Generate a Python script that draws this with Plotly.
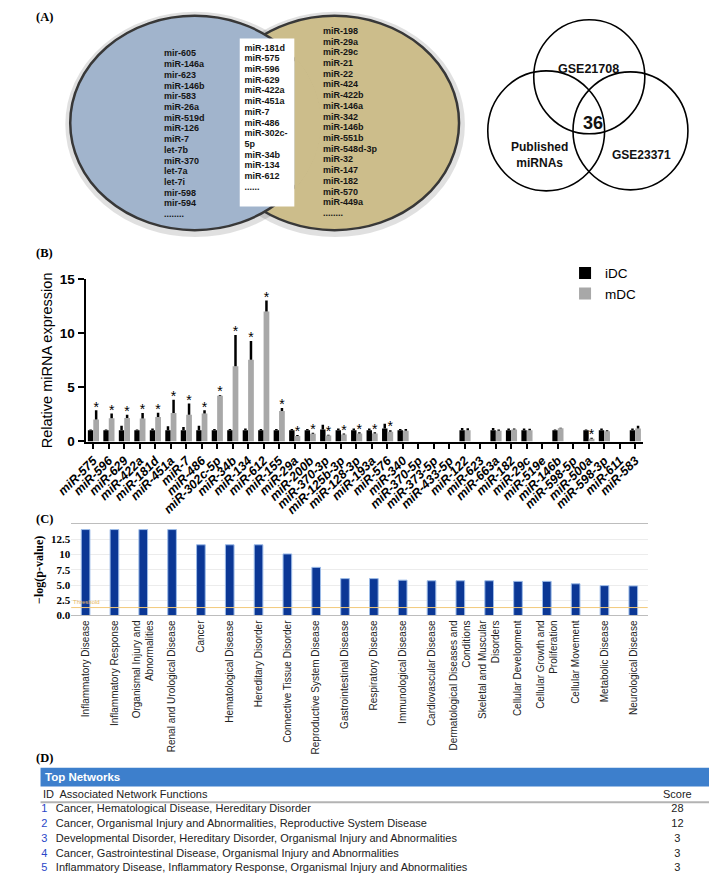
import numpy as np
import plotly.graph_objects as go

W, H = 709, 884
SANS = "Liberation Sans, Arial, sans-serif"
SERIF = "Liberation Serif, Times New Roman, serif"

# ---------------- Panel A data ----------------
left_only = ["mir-605", "miR-146a", "mir-623", "miR-146b", "mir-583", "miR-26a", "miR-519d",
             "miR-126", "miR-7", "let-7b", "miR-370", "let-7a", "let-7i", "mir-598", "mir-594",
             "........"]
shared = ["miR-181d", "miR-575", "miR-596", "miR-629", "miR-422a", "miR-451a", "miR-7",
          "miR-486", "miR-302c-", "5p", "miR-34b", "miR-134", "miR-612", "......"]
right_only = ["miR-198", "miR-29a", "miR-29c", "miR-21", "miR-22", "miR-424", "miR-422b",
              "miR-146a", "miR-342", "miR-146b", "miR-551b", "miR-548d-3p", "miR-32", "miR-147",
              "miR-182", "miR-570", "miR-449a", "........"]
venn3_sets = ["GSE21708", "Published<br>miRNAs", "GSE23371"]
venn3_common = "36"

# ---------------- Panel B data ----------------
mirnas = ["miR-575", "miR-596", "miR-629", "miR-422a", "miR-181d", "miR-451a", "miR-7", "miR-486",
          "miR-302c-5p", "miR-34b", "miR-134", "miR-612", "miR-155", "miR-29a", "miR-200b",
          "miR-370-3p", "miR-125b-3p", "miR-128-3p", "miR-193a", "miR-576", "miR-340",
          "miR-370-5p", "miR-373-5p", "miR-433-5p", "miR-122", "miR-623", "miR-663a", "miR-182",
          "miR-29c", "miR-519e", "miR-146b", "miR-598-5p", "miR-500a", "miR-598-3p", "miR-611",
          "miR-583"]
idc = [1.05, 1.05, 1.05, 1.05, 1.05, 1.05, 1.05, 1.05, 1.05, 1.05, 1.05, 1.05, 1.05, 1.05, 1.05,
       1.1, 1.05, 1.05, 1.05, 1.2, 1.05, 0, 0, 0, 1.05, 0, 1.05, 1.05, 1.05, 0, 1.05, 0, 1.05,
       1.05, 0, 1.05]
idc_err = [0.05, 0.05, 0.4, 0.05, 0.15, 0.35, 0.3, 0.4, 0.1, 0.1, 0.15, 0.1, 0.1, 0.1, 0.1,
           0.45, 0.15, 0.15, 0.15, 0.45, 0.1, 0, 0, 0, 0.2, 0, 0.2, 0.15, 0.15, 0, 0.05, 0, 0.05,
           0.15, 0, 0.15]
mdc = [2.03, 2.15, 2.18, 2.12, 2.27, 2.64, 2.48, 2.58, 4.24, 6.97, 7.55, 12.03, 2.82, 0.52, 0.72,
       0.55, 0.65, 0.75, 0.75, 0.9, 1.0, 0, 0, 0, 1.05, 0, 1.0, 1.1, 1.05, 0, 1.22, 0, 0.25, 0.95,
       0, 1.2]
mdc_err = [0.85, 0.43, 0.3, 0.52, 0.4, 1.21, 1.04, 0.3, 0.06, 2.88, 1.75, 1.0, 0.27, 0.08, 0.1,
           0.08, 0.1, 0.1, 0.1, 0.15, 0.15, 0, 0, 0, 0.18, 0, 0.1, 0.1, 0.12, 0, 0.05, 0, 0.1,
           0.1, 0, 0.25]
significant = [True] * 20 + [False] * 12 + [True] + [False] * 3

# ---------------- Panel C data ----------------
diseases = ["Inflammatory Disease", "Inflammatory Response", "Organismal Injury and<br>Abnormalities",
            "Renal and Urological Disease", "Cancer", "Hematological Disease", "Hereditary Disorder",
            "Connective Tissue Disorder", "Reproductive System Disease", "Gastrointestinal Disease",
            "Respiratory Disease", "Immunological Disease", "Cardiovascular Disease",
            "Dermatological Diseases and<br>Conditions", "Skeletal and Muscular<br>Disorders",
            "Cellular Development", "Cellular Growth and<br>Proliferation", "Cellular Movement",
            "Metabolic Disease", "Neurological Disease"]
neglogp = [14.1, 14.1, 14.1, 14.1, 11.6, 11.6, 11.6, 10.1, 7.9, 6.05, 6.05, 5.8, 5.7, 5.7, 5.7,
           5.6, 5.6, 5.2, 4.9, 4.85]
threshold = 1.3

# ---------------- Panel D data ----------------
net_ids = ["1", "2", "3", "4", "5"]
net_functions = ["Cancer, Hematological Disease, Hereditary Disorder",
                 "Cancer, Organismal Injury and Abnormalities, Reproductive System Disease",
                 "Developmental Disorder, Hereditary Disorder, Organismal Injury and Abnormalities",
                 "Cancer, Gastrointestinal Disease, Organismal Injury and Abnormalities",
                 "Inflammatory Disease, Inflammatory Response, Organismal Injury and Abnormalities"]
net_scores = [28, 12, 3, 3, 3]


def py(y):
    return 1 - y / H


fig = go.Figure()

# ---------- Panel A: text lists on a pixel axis ----------
LSTEP = 10.9
for items, x0, y0 in [(left_only, 140, 48), (shared, 224, 42), (right_only, 306, 25)]:
    fig.add_trace(go.Scatter(
        x=[x0] * len(items), y=[y0 + LSTEP * i for i in range(len(items))],
        mode="text", text=items, textposition="middle right",
        textfont=dict(family=SANS, size=9, color="#151515", weight="bold"),
        xaxis="x", yaxis="y", hoverinfo="skip", showlegend=False))

shapes = []
bcx, bcy, brx, bry = 172, 118, 130, 109
tcx, tcy, trx, try_ = 318, 118, 130, 109
for cx, cy, rx, ry in [(tcx, tcy, trx, try_), (bcx, bcy, brx, bry)]:
    shapes.append(dict(type="circle", xref="x", yref="y", x0=cx - rx - 2, x1=cx + rx + 3,
                       y0=cy - ry - 1, y1=cy + ry + 4, line=dict(color="rgba(0,0,0,0.12)", width=6),
                       fillcolor="rgba(0,0,0,0)", layer="below"))
shapes.append(dict(type="circle", xref="x", yref="y", x0=tcx - trx, x1=tcx + trx, y0=tcy - try_,
                   y1=tcy + try_, fillcolor="#ccbd8b", line=dict(color="#383838", width=2.5),
                   layer="below"))
shapes.append(dict(type="circle", xref="x", yref="y", x0=bcx - brx, x1=bcx + brx, y0=bcy - bry,
                   y1=bcy + bry, fillcolor="#a1b4cc", line=dict(color="#383838", width=2.5),
                   layer="below"))
box_x0, box_x1, box_y0, box_y1 = 219, 276, 32, 203
a = np.arccos((box_x1 - bcx) / (brx + 2))
t = np.linspace(-a, a, 60)
xs = bcx + (brx + 2) * np.cos(t)
ys = bcy + (bry + 2) * np.sin(t)
path = "M " + " L ".join(f"{x:.2f},{y:.2f}" for x, y in zip(xs, ys)) + " Z"
shapes.append(dict(type="path", xref="x", yref="y", path=path, fillcolor="#ccbd8b",
                   line=dict(width=0), layer="below"))
shapes.append(dict(type="rect", xref="x", yref="y", x0=box_x0, x1=box_x1, y0=box_y0, y1=box_y1,
                   fillcolor="white", line=dict(width=0), layer="below"))
for cx, cy, r in [(584, 71, 58), (539, 126, 61), (627, 126, 60)]:
    shapes.append(dict(type="circle", xref="x", yref="y", x0=cx - r, x1=cx + r, y0=cy - r,
                       y1=cy + r, line=dict(color="black", width=1.6), fillcolor="rgba(0,0,0,0)",
                       layer="below"))

annotations = []
for txt, x, y, sz in [(venn3_sets[0], 583, 63, 12.5), (venn3_sets[1], 532, 151, 12),
                      (venn3_sets[2], 638, 151, 12), (venn3_common, 588, 118, 18)]:
    annotations.append(dict(text=txt, x=x, y=y, xref="x", yref="y", showarrow=False,
                            font=dict(family=SANS, size=sz, color="#111", weight="bold")))

for lab, x, y in [("(A)", 4, 10), ("(B)", 4, 250), ("(C)", 4, 521), ("(D)", 4, 764)]:
    annotations.append(dict(text=lab, x=x / W, y=py(y), xref="paper", yref="paper",
                            xanchor="left", yanchor="middle", showarrow=False,
                            font=dict(family=SERIF, size=12.5, color="black", weight="bold")))

# ---------- Panel B ----------
idx = list(range(len(mirnas)))
fig.add_trace(go.Bar(
    x=idx, y=idc, width=0.35, offset=-0.35, name="iDC",
    marker=dict(color="black", line=dict(width=0)),
    error_y=dict(type="data", array=idc_err, arrayminus=[0] * len(idx), symmetric=False,
                 color="black", thickness=2.5, width=0),
    xaxis="x2", yaxis="y2", hoverinfo="skip"))
fig.add_trace(go.Bar(
    x=idx, y=mdc, width=0.37, offset=0.0, name="mDC",
    marker=dict(color="#a8a8a8", line=dict(width=0)),
    error_y=dict(type="data", array=mdc_err, arrayminus=[0] * len(idx), symmetric=False,
                 color="black", thickness=2.5, width=0),
    xaxis="x2", yaxis="y2", hoverinfo="skip"))
sx = [i + 0.185 for i in idx if significant[i]]
sy = [mdc[i] + mdc_err[i] + 0.2 for i in idx if significant[i]]
fig.add_trace(go.Scatter(x=sx, y=sy, mode="text", text=["*"] * len(sx),
                         textposition="middle center",
                         textfont=dict(family=SANS, size=14, color="black"),
                         xaxis="x2", yaxis="y2", showlegend=False, hoverinfo="skip"))

# ---------- Panel C ----------
cidx = list(range(len(diseases)))
fig.add_trace(go.Bar(
    x=cidx, y=neglogp, width=0.3, marker=dict(color="#0b3795", line=dict(color="#9cbbe8", width=1)),
    xaxis="x3", yaxis="y3", showlegend=False, hoverinfo="skip"))
shapes.append(dict(type="line", xref="x3 domain", yref="y3", x0=0, x1=1, y0=threshold,
                   y1=threshold, line=dict(color="#f2c97a", width=1)))
annotations.append(dict(text="Threshold", x=0, y=threshold, xref="x3 domain", yref="y3",
                        xanchor="left", yanchor="bottom", showarrow=False, yshift=1,
                        font=dict(family=SANS, size=6, color="#e8b860")))

# ---------- Panel D ----------
shapes.append(dict(type="rect", xref="x", yref="y", x0=11, x1=709, y0=774, y1=793,
                   fillcolor="#3d7fcc", line=dict(width=0), layer="below"))
shapes.append(dict(type="line", xref="x", yref="y", x0=11, x1=709, y0=809, y1=809,
                   line=dict(color="#b3b3b3", width=2), layer="below"))
annotations.append(dict(text="Top Networks", x=14, y=783.5, xref="x", yref="y", xanchor="left",
                        showarrow=False, font=dict(family=SANS, size=11.5, color="white",
                                                   weight="bold")))
annotations.append(dict(text="ID  Associated Network Functions", x=11, y=801, xref="x", yref="y",
                        xanchor="left", showarrow=False, font=dict(family=SANS, size=11, color="#222")))
annotations.append(dict(text="Score", x=676, y=801, xref="x", yref="y", xanchor="center",
                        showarrow=False, font=dict(family=SANS, size=11, color="#222")))
rows = list(range(1, len(net_ids) + 1))
fig.add_trace(go.Scatter(x=[15] * len(rows), y=rows, mode="text", text=net_ids,
                         textposition="middle center",
                         textfont=dict(family=SANS, size=11, color="#2a46c8"),
                         xaxis="x4", yaxis="y4", showlegend=False, hoverinfo="skip"))
fig.add_trace(go.Scatter(x=[27] * len(rows), y=rows, mode="text", text=net_functions,
                         textposition="middle right",
                         textfont=dict(family=SANS, size=11, color="#222"),
                         xaxis="x4", yaxis="y4", showlegend=False, hoverinfo="skip"))
fig.add_trace(go.Scatter(x=[676] * len(rows), y=rows, mode="text", text=[str(s) for s in net_scores],
                         textposition="middle center",
                         textfont=dict(family=SANS, size=11, color="#222"),
                         xaxis="x4", yaxis="y4", showlegend=False, hoverinfo="skip"))

hidden = dict(visible=False, showgrid=False, zeroline=False, fixedrange=True)
fig.update_layout(
    width=W, height=H, margin=dict(l=0, r=0, t=0, b=0),
    paper_bgcolor="white", plot_bgcolor="rgba(0,0,0,0)",
    font=dict(family=SANS, color="black"),
    barmode="overlay", bargap=0.3,
    showlegend=True,
    legend=dict(x=0.788, y=py(255), xanchor="left", yanchor="top",
                font=dict(family=SANS, size=13.5, color="black"), bgcolor="rgba(0,0,0,0)",
                tracegroupgap=2, itemsizing="constant"),
    xaxis=dict(domain=[0, 1], range=[0, W], anchor="y", **hidden),
    yaxis=dict(domain=[0, 1], range=[H, 0], anchor="x", **hidden),
    xaxis2=dict(domain=[58 / W, 640 / W], range=[-0.5, len(mirnas) - 0.5], anchor="y2",
                tickmode="array", tickvals=idx, ticktext=mirnas, tickangle=-45,
                tickfont=dict(family=SANS, size=12.5, color="black", weight="bold", style="italic"),
                ticks="outside", ticklen=5, tickwidth=1.5, tickcolor="black",
                showline=True, linewidth=2, linecolor="black", showgrid=False, zeroline=False,
                fixedrange=True),
    yaxis2=dict(domain=[py(442), py(277)], range=[0, 15], anchor="x2",
                tickmode="array", tickvals=[0, 5, 10, 15],
                tickfont=dict(family=SANS, size=13.5, color="black", weight="bold"),
                ticks="outside", ticklen=6, tickwidth=2, tickcolor="black",
                showline=True, linewidth=2, linecolor="black", showgrid=False, zeroline=False,
                title=dict(text="Relative miRNA expression", standoff=4,
                           font=dict(family=SANS, size=14.5, color="black")),
                fixedrange=True),
    xaxis3=dict(domain=[43 / W, 645 / W], range=[-0.5, len(diseases) - 0.5], anchor="y3",
                tickmode="array", tickvals=cidx, ticktext=diseases, tickangle=-90,
                tickfont=dict(family=SANS, size=10, color="#222"), ticks="",
                showline=True, mirror=True, linewidth=1, linecolor="#bdbdbd",
                showgrid=False, zeroline=False, fixedrange=True),
    yaxis3=dict(domain=[py(619), py(526)], range=[0, 15], anchor="x3",
                tickmode="array", tickvals=[0, 2.5, 5, 7.5, 10, 12.5],
                ticktext=["0.0", "2.5", "5.0", "7.5", "10", "12.5"],
                tickfont=dict(family=SERIF, size=11, color="black", weight="bold"),
                ticks="", showgrid=True, gridcolor="#ececec", zeroline=False, showline=False,
                title=dict(text="\u2212log(p-value)", standoff=4,
                           font=dict(family=SERIF, size=12, color="black", weight="bold")),
                fixedrange=True),
    xaxis4=dict(domain=[0, 1], range=[0, W], anchor="y4", **hidden),
    yaxis4=dict(domain=[0, py(809)], range=[5.5, 0.5], anchor="x4", **hidden),
    shapes=shapes, annotations=annotations,
)

fig.write_html("out.html", config={"displayModeBar": False},
               post_script="document.body.style.margin='0';document.body.style.overflow='hidden';")
